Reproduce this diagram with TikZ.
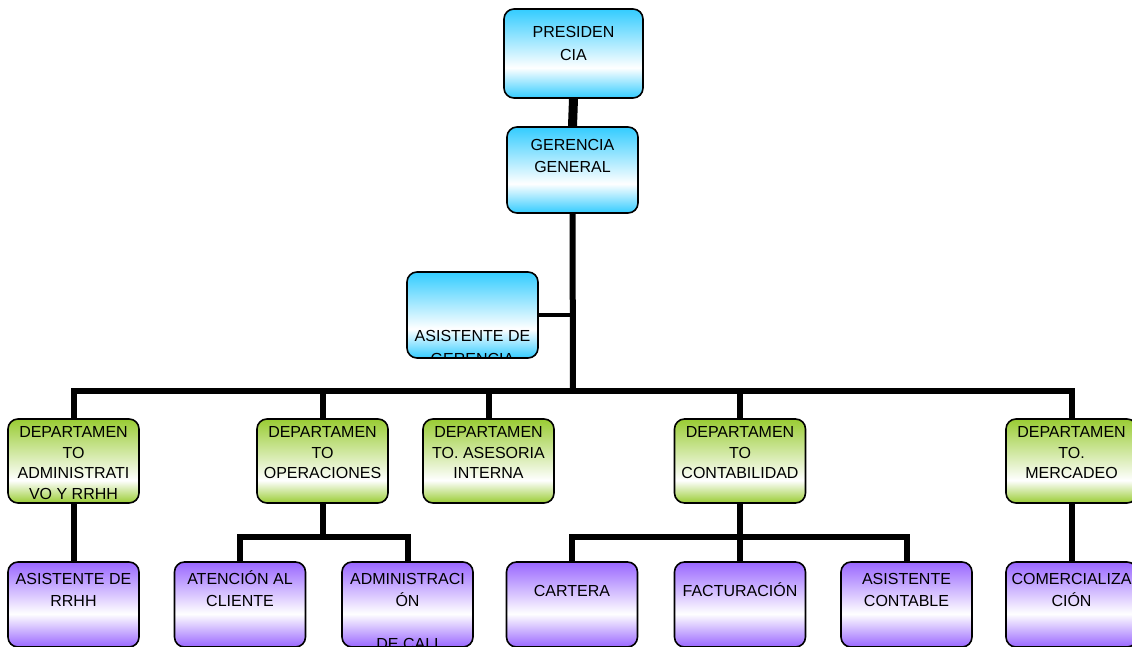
\documentclass[tikz,border=0pt]{standalone}
\usepackage{fontspec}
\setmainfont{Liberation Sans}
\usetikzlibrary{backgrounds}
\definecolor{cy}{HTML}{33CCFF}
\definecolor{gr}{HTML}{99CC33}
\definecolor{pu}{HTML}{9966FF}
\pgfdeclareverticalshading{cyshade}{100bp}{color(0bp)=(cy); color(25bp)=(cy); color(42bp)=(white); color(75bp)=(cy); color(100bp)=(cy)}
\pgfdeclareverticalshading{grshade}{100bp}{color(0bp)=(gr); color(25bp)=(gr); color(38.5bp)=(white); color(75bp)=(gr); color(100bp)=(gr)}
\pgfdeclareverticalshading{pushade}{100bp}{color(0bp)=(pu); color(25bp)=(pu); color(44.5bp)=(white); color(75bp)=(pu); color(100bp)=(pu)}
\tikzset{
  box/.style={draw=black, line width=1.6pt, rounded corners=10pt, minimum width=131pt, minimum height=85pt, inner sep=0pt},
  bluebox/.style={box, shade, shading=cyshade},
  greenbox/.style={box, shade, shading=grshade, minimum height=84pt},
  purplebox/.style={box, shade, shading=pushade},
  txt/.style={anchor=base, inner sep=0pt, draw=none},
  conn/.style={line width=6pt, draw=black},
}
\newcommand\boxtext[3]{\node[txt] at ([yshift=-#1pt]path picture bounding box.north) {\parbox[t]{140pt}{\centering\fontsize{16}{#2}\selectfont #3}};}
\begin{document}
\begin{tikzpicture}[x=1pt,y=-1pt]
\useasboundingbox (0,0) rectangle (1132,647);
\clip (0,0) rectangle (1132,647);
% top
\node[bluebox, minimum width=139pt, minimum height=89pt, path picture={\boxtext{29}{23}{PRESIDEN\\CIA}}] (pres) at (573.5,53.5) {};
\node[bluebox, minimum height=86pt, path picture={\boxtext{24}{21.5}{GERENCIA\\GENERAL}}] (ger) at (572.5,170) {};
\node[bluebox, minimum height=86pt, path picture={\boxtext{69}{23}{ASISTENTE DE\\GERENCIA}}] (asg) at (472.5,315) {};
% departments
\node[greenbox, path picture={\boxtext{18.5}{20.7}{DEPARTAMEN\\TO\\ADMINISTRATI\\VO Y RRHH}}] (d1) at (73.5,461) {};
\node[greenbox, path picture={\boxtext{18.5}{20.7}{DEPARTAMEN\\TO\\OPERACIONES}}] (d2) at (322.5,461) {};
\node[greenbox, path picture={\boxtext{18.5}{20.7}{DEPARTAMEN\\TO. ASESORIA\\INTERNA}}] (d3) at (488.5,461) {};
\node[greenbox, path picture={\boxtext{18.5}{20.7}{DEPARTAMEN\\TO\\CONTABILIDAD}}] (d4) at (740,461) {};
\node[greenbox, path picture={\boxtext{18.5}{20.7}{DEPARTAMEN\\TO.\\MERCADEO}}] (d5) at (1071.5,461) {};
% bottom
\node[purplebox, path picture={\boxtext{22.5}{21.5}{ASISTENTE DE\\RRHH}}] (b1) at (73.5,604.5) {};
\node[purplebox, path picture={\boxtext{22.5}{21.5}{ATENCIÓN AL\\CLIENTE}}] (b2) at (240,604.5) {};
\node[purplebox, path picture={\boxtext{22.5}{21.5}{ADMINISTRACI\\ÓN\\\mbox{}\\DE CALI}}] (b3) at (407.5,604.5) {};
\node[purplebox, path picture={\boxtext{34}{21.5}{CARTERA}}] (b4) at (572,604.5) {};
\node[purplebox, path picture={\boxtext{34}{21.5}{FACTURACIÓN}}] (b5) at (740,604.5) {};
\node[purplebox, path picture={\boxtext{22.5}{21.5}{ASISTENTE\\CONTABLE}}] (b6) at (906.5,604.5) {};
\node[purplebox, path picture={\boxtext{22.5}{21.5}{COMERCIALIZA\\CIÓN}}] (b7) at (1071.5,604.5) {};
\coordinate (bus) at (573,391);
\coordinate (opsbar) at (323,537);
\coordinate (conbar) at (740,537);
\begin{scope}[on background layer]
\draw[conn, line width=9pt] (pres.south) -- (ger.north);
\draw[conn] (ger.south) -- (bus);
\draw[conn, line width=4.5pt] (asg.east) -- (asg.east -| ger.south);
\draw[conn] (d1.north) -- (d1.north |- bus) -- (d5.north |- bus) -- (d5.north);
\draw[conn] (d2.north) -- (d2.north |- bus);
\draw[conn] (d3.north) -- (d3.north |- bus);
\draw[conn] (d4.north) -- (d4.north |- bus);
\draw[conn] (d1.south) -- (b1.north);
\draw[conn] (d2.south) -- (d2.south |- opsbar);
\draw[conn] (b2.north) -- (b2.north |- opsbar) -- (b3.north |- opsbar) -- (b3.north);
\draw[conn] (d4.south) -- (conbar);
\draw[conn] (b4.north) -- (b4.north |- conbar) -- (b6.north |- conbar) -- (b6.north);
\draw[conn] (b5.north) -- (b5.north |- conbar);
\draw[conn] (d5.south) -- (b7.north);
\end{scope}
\end{tikzpicture}
\end{document}
